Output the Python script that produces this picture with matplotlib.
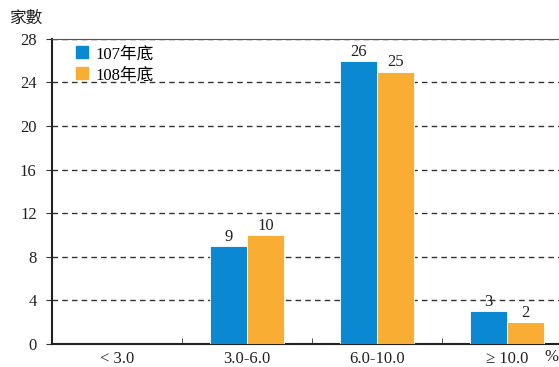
import matplotlib
matplotlib.use("Agg")
import matplotlib.pyplot as plt
import numpy as np
from matplotlib.lines import Line2D

plt.rcParams['font.family'] = ['Liberation Serif', 'Noto Sans CJK TC']

categories = ['< 3.0', '3.0-6.0', '6.0-10.0', '≥ 10.0']
series_names = ['107年底', '108年底']
values_107 = [0, 9, 26, 3]
values_108 = [0, 10, 25, 2]
yticks = [0, 4, 8, 12, 16, 20, 24, 28]

blue = '#0A89D2'
orange = '#F9AE33'
fs = 12

fig = plt.figure(figsize=(5.59, 3.67), dpi=100)
ax = fig.add_axes([0.093, 0.063, 0.93, 0.831])

x = np.arange(len(categories))
w = 0.285
b1 = ax.bar(x - w/2, values_107, w, color=blue, edgecolor='white', linewidth=0.6, zorder=3)
b2 = ax.bar(x + w/2, values_108, w, color=orange, edgecolor='white', linewidth=0.6, zorder=3)

for bars, vals in ((b1, values_107), (b2, values_108)):
    for r, v in zip(bars, vals):
        if v > 0:
            ax.text(r.get_x() + r.get_width()/2, v + 0.1, str(v), ha='center', va='bottom',
                    fontsize=fs, color='#222222', zorder=4)

ax.set_xlim(-0.5, 3.5)
ax.set_ylim(0, 28)
ax.set_yticks(yticks)
ax.set_yticklabels([str(t) for t in yticks], fontsize=fs, color='#222222')
ax.yaxis.grid(True, linestyle=(0, (4, 3)), color='#333333', linewidth=1.0, zorder=0)
ax.set_xticks(x)
ax.set_xticklabels(categories, fontsize=fs, color='#222222')
ax.set_xticks([0.5, 1.5, 2.5], minor=True)
ax.tick_params(axis='x', which='major', length=0, pad=5)
ax.tick_params(axis='x', which='minor', length=4, direction='in', color='#333333')
ax.tick_params(axis='y', length=4, direction='out', pad=7, color='#333333')

ax.spines['right'].set_visible(False)
ax.spines['top'].set_color('#555555')
ax.spines['top'].set_linewidth(0.8)
ax.spines['left'].set_color('#222222')
ax.spines['left'].set_linewidth(1.5)
ax.spines['bottom'].set_color('#222222')
ax.spines['bottom'].set_linewidth(1.5)

fig.text(10/559, 1 - 19/367, '家數', fontsize=fs, ha='left', va='center', color='#222222')
fig.text(551/559, 1 - 357/367, '%', fontsize=fs, ha='center', va='center', color='#222222')

handles = [Line2D([], [], marker='s', linestyle='', markersize=8, color=blue),
           Line2D([], [], marker='s', linestyle='', markersize=8, color=orange)]
leg = ax.legend(handles, series_names, loc='upper left', bbox_to_anchor=(0.013, 1.025),
                frameon=False, fontsize=fs, handletextpad=0.3, labelspacing=0.3,
                handlelength=1.0)

fig.savefig('out.png', dpi=100)
